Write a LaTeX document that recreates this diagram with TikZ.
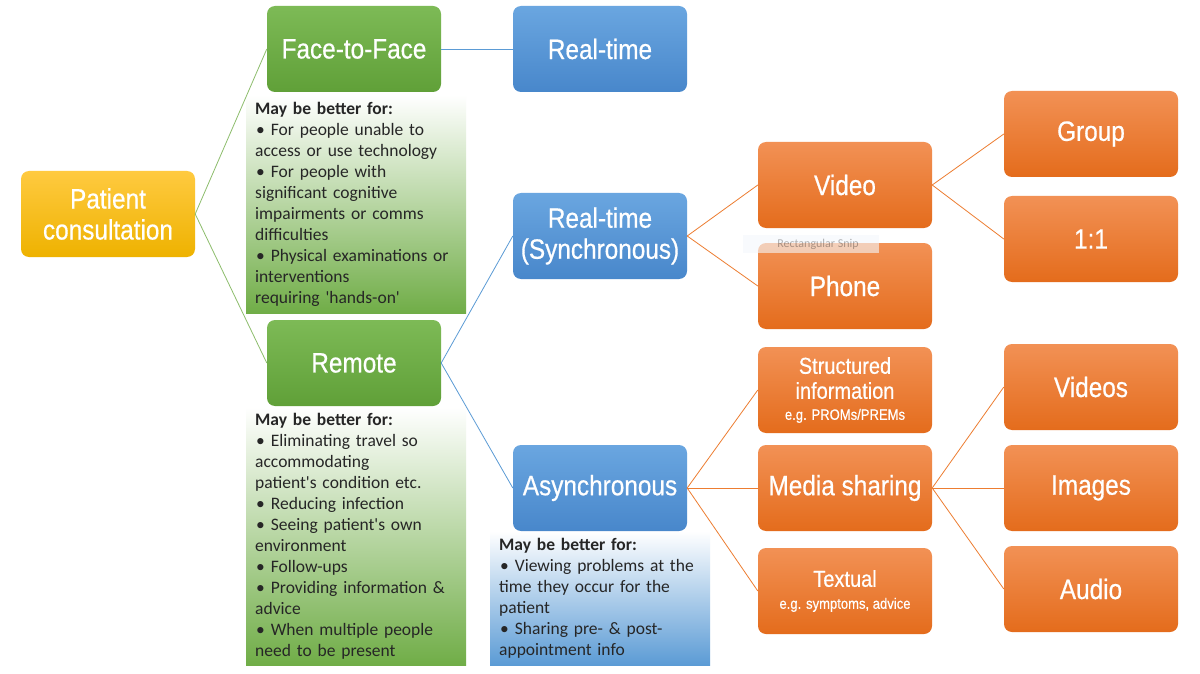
\documentclass[tikz,border=0pt]{standalone}
\usepackage{fontspec}
\setmainfont{Carlito}[Ligatures=TeXOff]
\newfontfamily\boxfont{Liberation Sans}[FakeStretch=0.87,FakeBold=0.5]
\definecolor{goldT}{RGB}{255,202,64}
\definecolor{goldB}{RGB}{238,178,0}
\definecolor{greenT}{RGB}{125,186,86}
\definecolor{greenB}{RGB}{96,160,56}
\definecolor{blueT}{RGB}{106,166,224}
\definecolor{blueB}{RGB}{72,135,203}
\definecolor{orangeT}{RGB}{242,145,85}
\definecolor{orangeB}{RGB}{228,108,28}
\definecolor{greenN}{RGB}{112,173,71}
\definecolor{blueN}{RGB}{91,155,213}
\definecolor{orangeN}{RGB}{237,125,49}
\definecolor{textgray}{RGB}{38,38,38}
\newcommand{\bul}{\hspace{1pt}•\hspace{6pt}}
\begin{document}
\begin{tikzpicture}[x=1pt,y=-1pt,
  cbox/.style={rounded corners=8pt, minimum width=174pt, minimum height=86pt, inner sep=0pt,
    align=center, text=white, font=\boxfont\fontsize{28}{31}\selectfont},
  goldbox/.style={cbox, top color=goldT, bottom color=goldB},
  greenbox/.style={cbox, top color=greenT, bottom color=greenB},
  bluebox/.style={cbox, top color=blueT, bottom color=blueB},
  orangebox/.style={cbox, top color=orangeT, bottom color=orangeB},
  note/.style={anchor=north west, minimum width=220pt, text width=202pt, inner xsep=9pt, inner ysep=0pt,
    align=left, text=textgray, font=\fontsize{17.5}{21}\selectfont},
  gline/.style={draw=greenN!80, line width=0.8pt},
  bline/.style={draw=blueN, line width=0.8pt},
  oline/.style={draw=orangeN, line width=0.8pt},
  snip/.style={fill=blueN!7, opacity=0.6, text opacity=0.3, text=black, minimum width=136pt, minimum height=18pt,
    inner sep=0pt, font=\fontsize{12}{13}\selectfont}
]
\useasboundingbox (0,0) rectangle (1200,674);
\fill[white] (0,0) rectangle (1200,674);

% note boxes
\node[note, top color=white, bottom color=greenN, minimum height=218pt] (ftfnote) at (246,95)
 {\textbf{May be better for:}\\
  \bul For people unable to\\
  access or use technology\\
  \bul For people with\\
  significant cognitive\\
  impairments or comms\\
  difficulties\\
  \bul Physical examinations or\\
  interventions\\
  requiring 'hands-on'};
\node[note, top color=white, bottom color=greenN, minimum height=258pt] (remnote) at (246,407)
 {\textbf{May be better for:}\\
  \bul Eliminating travel so\\
  accommodating\\
  patient's condition etc.\\
  \bul Reducing infection\\
  \bul Seeing patient's own\\
  environment\\
  \bul Follow-ups\\
  \bul Providing information \&\\
  advice\\
  \bul When multiple people\\
  need to be present};
\node[note, top color=white, bottom color=blueN, minimum height=134pt] (asynote) at (490,531)
 {\textbf{May be better for:}\\
  \bul Viewing problems at the\\
  time they occur for the\\
  patient\\
  \bul Sharing pre- \& post-\\
  appointment info};

% main boxes
\node[goldbox] (pc) at (108,214) {Patient\\consultation};
\node[greenbox] (ftf) at (354,49) {Face-to-Face};
\node[greenbox] (rem) at (354,363) {Remote};
\node[bluebox] (rt) at (600,49) {Real-time};
\node[bluebox] (sync) at (600,236) {Real-time\\(Synchronous)};
\node[bluebox] (async) at (600,488) {Asynchronous};
\node[orangebox] (video) at (845,185) {Video};
\node[orangebox] (phone) at (845,286) {Phone};
\node[orangebox] (group) at (1091,134) {Group};
\node[orangebox] (one) at (1091,239) {1:1};
\node[orangebox, font=\boxfont\fontsize{23}{25}\selectfont] (struct) at (845,390)
 {Structured\\information\\[-4pt]{\fontsize{15}{17}\selectfont e.g. PROMs/PREMs}};
\node[orangebox] (media) at (845,488) {Media sharing};
\node[orangebox, font=\boxfont\fontsize{23}{25}\selectfont] (text) at (845,591)
 {Textual\\[-3pt]{\fontsize{15}{17}\selectfont e.g. symptoms, advice}};
\node[orangebox] (videos) at (1091,387) {Videos};
\node[orangebox] (images) at (1091,488) {Images};
\node[orangebox] (audio) at (1091,589) {Audio};

% connectors
\draw[gline] (pc.east) -- (ftf.west);
\draw[gline] (pc.east) -- (rem.west);
\draw[bline] (ftf.east) -- (rt.west);
\draw[bline] (rem.east) -- (sync.west);
\draw[bline] (rem.east) -- (async.west);
\draw[oline] (sync.east) -- (video.west);
\draw[oline] (sync.east) -- (phone.west);
\draw[oline] (video.east) -- (group.west);
\draw[oline] (video.east) -- (one.west);
\draw[oline] (async.east) -- (struct.west);
\draw[oline] (async.east) -- (media.west);
\draw[oline] (async.east) -- (text.west);
\draw[oline] (media.east) -- (videos.west);
\draw[oline] (media.east) -- (images.west);
\draw[oline] (media.east) -- (audio.west);

% faint screenshot artefact
\node[snip] (sniplabel) at (811,244) {\hspace{14pt}Rectangular Snip};
\end{tikzpicture}
\end{document}
